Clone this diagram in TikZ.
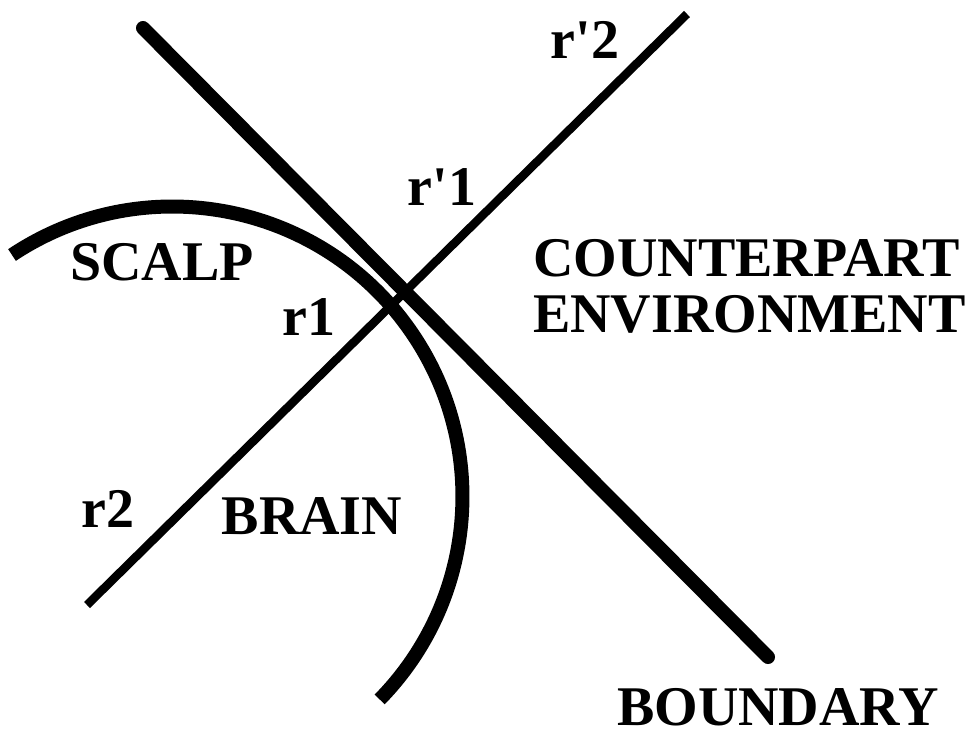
\documentclass[tikz,border=0pt]{standalone}
\usepackage{fontspec}
\setmainfont{Liberation Serif}

\begin{document}
\begin{tikzpicture}[x=1pt, y=-1pt,
    lbl/.style={inner sep=0pt, font=\fontsize{56}{56}\selectfont\bfseries},
    bound/.style={line width=14pt, line cap=round},
    ray/.style={line width=8.5pt},
    scalp/.style={line width=14pt}
]
\useasboundingbox (0,0) rectangle (975,736);

% Labels
\node[lbl] (scalp) at (162,262) {SCALP};
\node[lbl] (r1) at (309,317) {r1};
\node[lbl] (rp1) at (442,187) {r\textquotesingle 1};
\node[lbl] (rp2) at (585,40) {r\textquotesingle 2};
\node[lbl] (r2) at (108,509) {r2};
\node[lbl] (brain) at (312,516) {BRAIN};
\node[lbl, anchor=west, align=left] (env) at (533,286.5) {COUNTERPART\\ENVIRONMENT};
\node[lbl] (boundary) at (778,707) {BOUNDARY};

% Line ends
\coordinate (b1) at (143,28);
\coordinate (b2) at (768,657);
\coordinate (ra) at (87,605);
\coordinate (rb) at (687,14);
\coordinate (s1) at (12,255);

\draw[scalp] (s1) arc[start angle=-123.6, end angle=44.4, radius=290];
\draw[ray] (ra) -- (rb);
\draw[bound] (b1) -- (b2);
\end{tikzpicture}
\end{document}
